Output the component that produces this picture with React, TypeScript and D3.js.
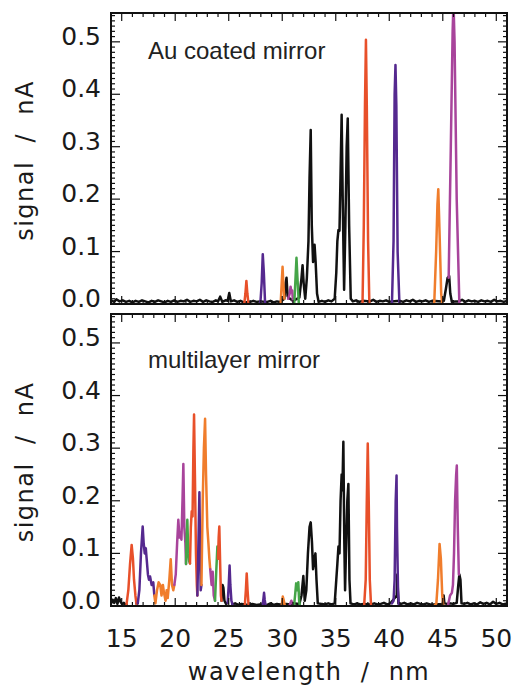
import React from 'react';
import * as d3 from 'd3';

type Pt = [number, number];

const xTicks = [15, 20, 25, 30, 35, 40, 45, 50];
const yTicks = [0.0, 0.1, 0.2, 0.3, 0.4, 0.5];
const panelLabels = ['Au coated mirror', 'multilayer mirror'];
const xTitle = 'wavelength  /  nm';
const yTitle = 'signal  /  nA';

const colors: Record<string, string> = {
  black: '#111111',
  red: '#e8502a',
  orange: '#f07d2c',
  purple: '#55298f',
  magenta: '#a8449b',
  green: '#45a548',
};

// ---- Au coated mirror ----
const auBlack: Pt[] = [
  [14.0, 0.007], [14.3, 0.004], [14.5, 0.009], [14.8, 0.005], [15.1, 0.007], [15.4, 0.004], [15.7, 0.006],
  [16.0, 0.003], [16.3, 0.006], [16.6, 0.004], [16.9, 0.007], [17.2, 0.005], [17.5, 0.003], [17.8, 0.006],
  [18.1, 0.004], [18.4, 0.007], [18.7, 0.005], [19.0, 0.003], [19.3, 0.006], [19.6, 0.004], [19.9, 0.007],
  [20.2, 0.004], [20.5, 0.006], [20.8, 0.005], [21.1, 0.008], [21.4, 0.004], [21.7, 0.006], [22.0, 0.005],
  [22.3, 0.008], [22.6, 0.004], [22.9, 0.007], [23.2, 0.005], [23.5, 0.004], [23.8, 0.007], [24.0, 0.005],
  [24.2, 0.014], [24.4, 0.004], [24.7, 0.007], [24.9, 0.006], [25.05, 0.021], [25.2, 0.005], [25.5, 0.007],
  [25.8, 0.004], [26.1, 0.006], [26.4, 0.003], [27.0, 0.004], [27.3, 0.006], [27.6, 0.004], [27.9, 0.005],
  [28.6, 0.004], [28.9, 0.006], [29.2, 0.003], [29.5, 0.005], [29.8, 0.004], [30.2, 0.01], [30.32, 0.04],
  [30.4, 0.05], [30.5, 0.015], [30.6, 0.012], [31.0, 0.006], [31.6, 0.012], [31.8, 0.05], [31.9, 0.074],
  [32.0, 0.04], [32.15, 0.01], [32.3, 0.05], [32.45, 0.12], [32.55, 0.24], [32.66, 0.332], [32.76, 0.15],
  [32.88, 0.08], [33.02, 0.113], [33.12, 0.08], [33.25, 0.02], [33.4, 0.004], [33.7, 0.006], [34.0, 0.004],
  [34.3, 0.007], [34.6, 0.005], [34.9, 0.01], [35.05, 0.06], [35.15, 0.12], [35.25, 0.141], [35.35, 0.14],
  [35.45, 0.25], [35.55, 0.361], [35.65, 0.2], [35.78, 0.027], [35.9, 0.15], [36.02, 0.3], [36.12, 0.354],
  [36.25, 0.15], [36.4, 0.01], [36.6, 0.005], [36.9, 0.007], [37.2, 0.004], [37.5, 0.006], [38.2, 0.005],
  [38.5, 0.008], [38.8, 0.004], [39.1, 0.006], [39.4, 0.005], [39.7, 0.007], [40.0, 0.004], [40.2, 0.005],
  [41.0, 0.006], [41.3, 0.004], [41.6, 0.007], [41.9, 0.005], [42.2, 0.008], [42.5, 0.004], [42.8, 0.006],
  [43.1, 0.005], [43.4, 0.007], [43.7, 0.004], [44.0, 0.006], [44.9, 0.005], [45.1, 0.006], [45.3, 0.03],
  [45.45, 0.05], [45.6, 0.053], [45.7, 0.02], [45.85, 0.004], [46.2, 0.005], [46.5, 0.005], [46.8, 0.008],
  [47.1, 0.004], [47.4, 0.007], [47.7, 0.005], [48.0, 0.006], [48.3, 0.004], [48.6, 0.007], [48.9, 0.005],
  [49.2, 0.006], [49.5, 0.004], [49.8, 0.008], [50.1, 0.005], [50.4, 0.006], [50.7, 0.004], [51.0, 0.006],
];
const auRed1: Pt[] = [[26.45, 0], [26.56, 0.02], [26.65, 0.044], [26.74, 0.02], [26.85, 0]];
const auPurple1: Pt[] = [[27.95, 0], [28.08, 0.04], [28.18, 0.095], [28.28, 0.06], [28.4, 0]];
const auOrange1: Pt[] = [[29.85, 0], [29.95, 0.04], [30.03, 0.071], [30.1, 0.04], [30.2, 0.01]];
const auMagenta1: Pt[] = [[30.55, 0.01], [30.7, 0.02], [30.78, 0.033], [30.86, 0.022], [30.93, 0.026], [31.0, 0.005]];
const auGreen1: Pt[] = [[31.12, 0], [31.22, 0.04], [31.33, 0.088], [31.42, 0.05], [31.55, 0]];
const auRed2: Pt[] = [[37.5, 0], [37.62, 0.15], [37.73, 0.38], [37.82, 0.504], [37.9, 0.38], [38.02, 0.12], [38.14, 0]];
const auPurple2: Pt[] = [[40.25, 0], [40.4, 0.12], [40.5, 0.4], [40.58, 0.456], [40.66, 0.38], [40.78, 0.1], [40.95, 0]];
const auOrange2: Pt[] = [[44.2, 0], [44.38, 0.1], [44.5, 0.19], [44.58, 0.219], [44.65, 0.17], [44.72, 0.12], [44.85, 0.02], [44.95, 0]];
const auMagenta2: Pt[] = [[45.55, 0.05], [45.75, 0.3], [45.92, 0.52], [46.0, 0.575], [46.1, 0.5], [46.3, 0.2], [46.55, 0]];

// ---- multilayer mirror ----
const mlBlack1: Pt[] = [
  [14.0, 0.004], [14.15, 0.012], [14.3, 0.006], [14.45, 0.015], [14.6, 0.004], [14.75, 0.016], [14.9, 0.008],
  [15.05, 0.003], [15.2, 0.006], [15.35, 0.002], [15.45, 0.003],
];
const mlBlack2: Pt[] = [[16.38, 0.004], [16.45, 0.01], [16.5, 0.005]];
const mlBlack3: Pt[] = [[24.33, 0.01], [24.42, 0.04], [24.5, 0.035], [24.6, 0.01], [24.75, 0.004], [24.9, 0.006]];
const mlBlack4: Pt[] = [
  [25.35, 0.003], [25.6, 0.005], [25.9, 0.002], [26.2, 0.004], [26.5, 0.003], [26.9, 0.002], [27.2, 0.004],
  [27.6, 0.002], [27.9, 0.003], [28.6, 0.002], [28.9, 0.005], [29.2, 0.002], [29.5, 0.004], [29.8, 0.003],
  [30.4, 0.004], [30.7, 0.003], [31.0, 0.005], [31.6, 0.004], [31.8, 0.02], [31.97, 0.057], [32.1, 0.01],
  [32.25, 0.03], [32.4, 0.1], [32.55, 0.15], [32.66, 0.159], [32.78, 0.12], [32.88, 0.07], [33.0, 0.09],
  [33.1, 0.1], [33.2, 0.05], [33.32, 0.005], [33.7, 0.004], [34.0, 0.003], [34.3, 0.005], [34.6, 0.003],
  [34.9, 0.005], [35.05, 0.05], [35.15, 0.08], [35.25, 0.113], [35.35, 0.1], [35.45, 0.2], [35.55, 0.25],
  [35.62, 0.22], [35.71, 0.312], [35.8, 0.12], [35.87, 0.03], [35.95, 0.1], [36.08, 0.2], [36.18, 0.232],
  [36.28, 0.05], [36.38, 0.005], [36.7, 0.003], [37.0, 0.005], [37.3, 0.003], [37.6, 0.004], [38.3, 0.003],
  [38.6, 0.005], [38.9, 0.003], [39.2, 0.004], [39.5, 0.006], [39.8, 0.003], [40.1, 0.005], [40.3, 0.01],
  [40.7, 0.02], [40.75, 0.06], [40.85, 0.005], [41.1, 0.004], [41.4, 0.006], [41.7, 0.003], [42.0, 0.005],
  [42.3, 0.003], [42.6, 0.006], [42.9, 0.004], [43.2, 0.003], [43.5, 0.005], [43.8, 0.003], [44.1, 0.003],
  [44.9, 0.004], [45.0, 0.005], [45.08, 0.02], [45.15, 0.005], [45.4, 0.004], [45.7, 0.005], [46.0, 0.004],
  [46.3, 0.006], [46.45, 0.04], [46.55, 0.06], [46.65, 0.05], [46.75, 0.005], [47.0, 0.004], [47.3, 0.006],
  [47.6, 0.003], [47.9, 0.005], [48.2, 0.003], [48.5, 0.007], [48.8, 0.004], [49.1, 0.006], [49.4, 0.003],
  [49.7, 0.008], [50.0, 0.004], [50.3, 0.006], [50.6, 0.003], [51.0, 0.005],
];
const mlRed1: Pt[] = [[15.45, 0.003], [15.62, 0.03], [15.78, 0.08], [15.93, 0.116], [16.05, 0.09], [16.15, 0.05], [16.28, 0.02], [16.38, 0.004]];
const mlPurple1: Pt[] = [
  [16.5, 0.005], [16.65, 0.03], [16.8, 0.1], [16.96, 0.151], [17.05, 0.12], [17.15, 0.1], [17.25, 0.11],
  [17.33, 0.09], [17.45, 0.06], [17.55, 0.05], [17.65, 0.056], [17.8, 0.04], [17.95, 0.045], [18.05, 0.02],
];
const mlOrange1: Pt[] = [
  [18.05, 0.02], [18.15, 0.005], [18.3, 0.03], [18.45, 0.045], [18.6, 0.04], [18.72, 0.02], [18.85, 0.04],
  [18.95, 0.025], [19.1, 0.01], [19.2, 0.03], [19.3, 0.015], [19.45, 0.05], [19.58, 0.089], [19.7, 0.04],
  [19.82, 0.03], [19.92, 0.04],
];
const mlMagenta1: Pt[] = [
  [19.92, 0.04], [20.05, 0.06], [20.18, 0.12], [20.29, 0.164], [20.4, 0.13], [20.5, 0.14], [20.58, 0.126],
  [20.68, 0.2], [20.76, 0.27], [20.85, 0.15], [20.95, 0.12], [21.01, 0.08],
];
const mlGreen1: Pt[] = [[21.01, 0.08], [21.07, 0.13], [21.13, 0.164], [21.22, 0.1], [21.3, 0.085], [21.38, 0.081]];
const mlRed2: Pt[] = [
  [21.38, 0.081], [21.46, 0.15], [21.54, 0.18], [21.62, 0.17], [21.7, 0.3], [21.76, 0.364], [21.84, 0.25],
  [21.94, 0.1], [22.02, 0.04], [22.07, 0.02],
];
const mlPurple2: Pt[] = [[22.07, 0.02], [22.15, 0.1], [22.26, 0.216], [22.33, 0.1], [22.38, 0.03], [22.45, 0.04]];
const mlOrange2: Pt[] = [
  [22.45, 0.04], [22.57, 0.2], [22.68, 0.3], [22.79, 0.356], [22.88, 0.25], [23.0, 0.15], [23.1, 0.12],
  [23.19, 0.09], [23.27, 0.07],
];
const mlMagenta2: Pt[] = [[23.27, 0.07], [23.4, 0.04], [23.5, 0.065], [23.6, 0.02], [23.72, 0.01]];
const mlGreen2: Pt[] = [[23.72, 0.01], [23.82, 0.06], [23.94, 0.113], [24.0, 0.09]];
const mlRed3: Pt[] = [[24.0, 0.09], [24.06, 0.13], [24.12, 0.151], [24.2, 0.08], [24.27, 0.02], [24.33, 0.01]];
const mlPurple3: Pt[] = [[24.9, 0.006], [25.0, 0.04], [25.08, 0.077], [25.15, 0.04], [25.25, 0.01], [25.35, 0.003]];
const mlRed4: Pt[] = [[26.5, 0], [26.6, 0.03], [26.68, 0.062], [26.76, 0.03], [26.86, 0]];
const mlPurple4: Pt[] = [[28.15, 0], [28.25, 0.015], [28.3, 0.025], [28.36, 0.012], [28.45, 0]];
const mlOrange3: Pt[] = [[29.95, 0], [30.05, 0.018], [30.15, 0.01], [30.25, 0]];
const mlMagenta3: Pt[] = [[30.7, 0.002], [30.85, 0.01], [31.0, 0.004], [31.1, 0]];
const mlGreen3: Pt[] = [[31.1, 0], [31.2, 0.02], [31.3, 0.043], [31.4, 0.03], [31.5, 0.045], [31.58, 0.01], [31.65, 0]];
const mlRed5: Pt[] = [[37.65, 0], [37.8, 0.05], [37.9, 0.2], [37.99, 0.309], [38.08, 0.2], [38.18, 0.05], [38.3, 0]];
const mlPurple5: Pt[] = [[40.25, 0.005], [40.4, 0.01], [40.5, 0.05], [40.6, 0.2], [40.68, 0.248], [40.72, 0.15], [40.76, 0.1], [40.82, 0.03], [40.9, 0]];
const mlOrange4: Pt[] = [[44.2, 0], [44.4, 0.005], [44.55, 0.05], [44.7, 0.118], [44.82, 0.09], [44.95, 0.02], [45.05, 0]];
const mlMagenta4: Pt[] = [
  [45.5, 0.003], [45.68, 0.02], [45.85, 0.025], [45.95, 0.04], [46.05, 0.1], [46.15, 0.2], [46.25, 0.25],
  [46.31, 0.267], [46.4, 0.15], [46.5, 0.06],
];

const auTraces: [string, Pt[]][] = [
  ['black', auBlack], ['red', auRed1], ['purple', auPurple1], ['orange', auOrange1], ['magenta', auMagenta1],
  ['green', auGreen1], ['red', auRed2], ['purple', auPurple2], ['orange', auOrange2], ['magenta', auMagenta2],
];
const mlTraces: [string, Pt[]][] = [
  ['black', mlBlack1], ['black', mlBlack2], ['black', mlBlack3], ['black', mlBlack4],
  ['red', mlRed1], ['purple', mlPurple1], ['orange', mlOrange1], ['magenta', mlMagenta1], ['green', mlGreen1],
  ['red', mlRed2], ['purple', mlPurple2], ['orange', mlOrange2], ['magenta', mlMagenta2], ['green', mlGreen2],
  ['red', mlRed3], ['purple', mlPurple3], ['red', mlRed4], ['purple', mlPurple4], ['orange', mlOrange3],
  ['magenta', mlMagenta3], ['green', mlGreen3], ['red', mlRed5], ['purple', mlPurple5], ['orange', mlOrange4],
  ['magenta', mlMagenta4],
];

const W = 513;
const H = 688;
const left = 111;
const right = 507;
const tickFont = '"DejaVu Sans", sans-serif';
const labelFont = '"Liberation Sans", Arial, sans-serif';

const x = d3.scaleLinear().domain([14, 51]).range([left, right]);
const xMinor = d3.range(14, 51.5, 1);
const yMinor = d3.range(0, 0.556, 0.01);

function Panel({ top, bottom, traces, label, labelY, id, showX }: {
  top: number; bottom: number; traces: [string, Pt[]][]; label: string; labelY: number; id: string; showX: boolean;
}) {
  const y = d3.scaleLinear().domain([0, 0.555]).range([bottom, top]);
  const line = d3.line<Pt>().x(d => x(d[0])).y(d => y(d[1]));
  const mid = (top + bottom) / 2;
  return (
    <g>
      <defs>
        <clipPath id={id}>
          <rect x={left} y={top} width={right - left} height={bottom - top} />
        </clipPath>
      </defs>
      <g clipPath={`url(#${id})`}>
        {traces.map(([c, pts], i) => (
          <path key={i} d={line(pts) || ''} fill="none" stroke={colors[c]} strokeWidth={2.5}
            strokeLinejoin="round" strokeLinecap="round" />
        ))}
      </g>
      {/* ticks */}
      <g stroke="#111" strokeWidth={1.2}>
        {yMinor.map((v, i) => {
          const major = i % 10 === 0;
          const len = major ? 9 : 4;
          return (
            <g key={i}>
              <line x1={left} x2={left + len} y1={y(v)} y2={y(v)} />
              <line x1={right} x2={right - len} y1={y(v)} y2={y(v)} />
            </g>
          );
        })}
        {xMinor.map((v, i) => {
          const major = v % 5 === 0;
          const len = major ? 8 : 4;
          return (
            <g key={i}>
              <line x1={x(v)} x2={x(v)} y1={bottom} y2={bottom - len} />
              <line x1={x(v)} x2={x(v)} y1={top} y2={top + len} />
            </g>
          );
        })}
      </g>
      <rect x={left} y={top} width={right - left} height={bottom - top} fill="none" stroke="#111" strokeWidth={2} />
      {yTicks.map(v => (
        <text key={v} x={101} y={y(v) + 3} textAnchor="end" fontFamily={tickFont} fontSize={25} fill="#1a1a1a">
          {v.toFixed(1)}
        </text>
      ))}
      {showX && xTicks.map(v => (
        <text key={v} x={x(v)} y={647} textAnchor="middle" fontFamily={tickFont} fontSize={25} fill="#1a1a1a">
          {v}
        </text>
      ))}
      <text x={148} y={labelY} fontFamily={labelFont} fontSize={24} fill="#222">{label}</text>
      <text transform={`translate(33,${mid + 2}) rotate(-90)`} textAnchor="middle" fontFamily={tickFont}
        fontSize={24} letterSpacing={1.5} fill="#1a1a1a" style={{ whiteSpace: 'pre' }}>
        {yTitle}
      </text>
    </g>
  );
}

export default function App() {
  return (
    <svg width={W} height={H} style={{ position: 'absolute', left: 0, top: 0, background: '#fff' }}>
      <Panel top={13} bottom={304} traces={auTraces} label={panelLabels[0]} labelY={59} id="clipAu" showX={false} />
      <Panel top={314} bottom={606} traces={mlTraces} label={panelLabels[1]} labelY={368} id="clipMl" showX={true} />
      <text x={(left + right) / 2} y={680} textAnchor="middle" fontFamily={tickFont} fontSize={24}
        letterSpacing={1.5} fill="#1a1a1a" style={{ whiteSpace: 'pre' }}>
        {xTitle}
      </text>
    </svg>
  );
}
